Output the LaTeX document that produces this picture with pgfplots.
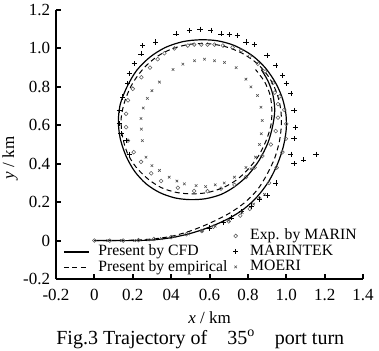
\documentclass[border=0pt]{standalone}
\usepackage{fontspec}
\setmainfont{Liberation Serif}
\usepackage{pgfplots}
\pgfplotsset{compat=1.18}
\newcommand{\myfont}{\fontsize{17}{20}\selectfont}
\newcommand{\legfont}{\fontsize{15.7}{18}\selectfont}
\newcommand{\capfont}{\fontsize{20}{23}\selectfont}
\begin{document}
\myfont
\begin{tikzpicture}[font=\myfont]
\pgfplotsset{
  common/.style={scale only axis, width=307pt, height=269pt,
    xmin=-0.2, xmax=1.4, ymin=-0.2, ymax=1.2, clip=false,
    at={(0,0)}, anchor=south west},
}
\begin{axis}[common,
  axis x line=bottom, axis y line=left,
  axis line style={-, line width=2pt},
  tick align=inside, major tick length=5pt,
  tick style={line width=2pt, black},
  xtick={-0.2,0,0.2,0.4,0.6,0.8,1.0,1.2,1.4},
  xticklabels={-0.2,0,0.2,04,0.6,0.8,1.0,1.2,1.4},
  ytick={-0.2,0,0.2,0.4,0.6,0.8,1.0,1.2},
  yticklabels={-0.2,0,0.2,0.4,0.6,0.8,1.0,1.2},
  xticklabel style={yshift=-4pt, font=\myfont},
  yticklabel style={font=\myfont},
  xlabel={\textit{x} / km}, ylabel={\textit{y} / km},
  xlabel style={at={(axis description cs:0.5,-0.143)}, anchor=center, font=\myfont},
  ylabel style={at={(axis description cs:-0.15,0.45)}, anchor=center, font=\myfont},
  legend style={draw=none, fill=none, at={(axis description cs:0.023,0.126)}, anchor=north west,
    font=\legfont, row sep=2pt, column sep=9pt, inner sep=0pt,
    nodes={inner sep=0pt, text height=10.5pt, text depth=3pt}},
  legend cell align=left,
  legend image code/.code={\draw[#1] (0pt,0pt) -- (25pt,0pt);},
]
\addplot[black, line width=1.2pt, smooth, tension=0.5] coordinates {
(0,0) (0.1,0) (0.2,0) (0.3,0.003) (0.4,0.015) (0.5,0.037) (0.6,0.07) (0.7,0.115)
(0.78,0.165) (0.85,0.23) (0.91,0.31) (0.955,0.4) (0.985,0.49) (1.0,0.58) (0.998,0.66)
(0.98,0.74) (0.945,0.82) (0.89,0.9) (0.82,0.965) (0.73,1.015) (0.64,1.04) (0.55,1.045)
(0.46,1.035) (0.37,1.005) (0.29,0.955) (0.22,0.885) (0.17,0.8) (0.135,0.71) (0.125,0.62)
(0.135,0.53) (0.165,0.44) (0.21,0.36) (0.27,0.295) (0.34,0.25) (0.42,0.222) (0.5,0.213)
(0.58,0.218) (0.66,0.24) (0.73,0.28) (0.8,0.34) (0.86,0.42) (0.905,0.51) (0.93,0.6)
(0.94,0.68) (0.93,0.76) (0.905,0.83) (0.87,0.89)
};
\addlegendentry{Present by CFD}
\addplot[black, line width=1.0pt, dash pattern=on 5pt off 3.5pt, smooth, tension=0.5] coordinates {
(0,0) (0.1,0) (0.2,0.002) (0.3,0.008) (0.4,0.022) (0.5,0.05) (0.6,0.09) (0.7,0.14)
(0.78,0.195) (0.85,0.265) (0.9,0.345) (0.94,0.43) (0.965,0.52) (0.975,0.61) (0.97,0.69)
(0.95,0.77) (0.91,0.85) (0.85,0.92) (0.77,0.975) (0.68,1.01) (0.59,1.025) (0.5,1.022)
(0.41,1.0) (0.33,0.96) (0.26,0.9) (0.2,0.82) (0.16,0.73) (0.14,0.64) (0.145,0.55)
(0.17,0.46) (0.215,0.385) (0.28,0.32) (0.35,0.275) (0.43,0.25) (0.51,0.243) (0.59,0.25)
(0.67,0.275) (0.74,0.315) (0.8,0.37) (0.855,0.44) (0.895,0.52) (0.92,0.6) (0.925,0.68)
(0.915,0.76) (0.885,0.83) (0.84,0.89)
};
\addlegendentry{Present by empirical}
\end{axis}
\begin{axis}[common, axis lines=none, ticks=none,
  legend style={draw=none, fill=none, at={(axis description cs:0.576,0.186)}, anchor=north west,
    font=\legfont, row sep=2pt, column sep=12pt, inner sep=0pt,
    nodes={inner sep=0pt, text height=10.5pt, text depth=3pt}},
  legend cell align=left,
  legend image code/.code={\draw[#1, mark repeat=1] plot coordinates {(0pt,0pt)};},
]
\addplot[only marks, mark=o, mark size=1.9pt, black!65, mark options={line width=0.55pt}] coordinates {
(0,0) (0.08,0) (0.15,0.0) (0.23,0.002) (0.31,0.008) (0.4,0.018) (0.48,0.033) (0.56,0.05)
(0.62,0.072) (0.7,0.1) (0.76,0.13) (0.81,0.165) (0.86,0.22) (0.91,0.3) (0.95,0.38)
(0.98,0.46) (0.998,0.53) (1.0,0.607) (0.99,0.68) (0.965,0.75) (0.93,0.82) (0.89,0.88)
(0.852,0.92) (0.81,0.96) (0.765,0.99) (0.72,1.005) (0.67,1.015) (0.626,1.02) (0.59,1.02)
(0.557,1.02) (0.52,1.02) (0.487,1.015) (0.417,1.0) (0.365,0.975) (0.33,0.944) (0.29,0.9)
(0.245,0.85) (0.2,0.79) (0.175,0.73) (0.165,0.66) (0.165,0.59) (0.175,0.52) (0.205,0.46)
(0.243,0.41) (0.296,0.35) (0.348,0.31) (0.435,0.275) (0.52,0.258) (0.59,0.257) (0.66,0.27)
(0.73,0.29) (0.79,0.33) (0.835,0.38) (0.875,0.44) (0.92,0.5) (0.945,0.57) (0.957,0.64)
(0.957,0.71) (0.94,0.77)
};
\addlegendentry{Exp. by MARIN}
\addplot[only marks, mark=+, mark size=2.6pt, black, mark options={line width=0.6pt}] coordinates {
(0.6,0.065) (0.67,0.095) (0.713,0.118) (0.765,0.15) (0.817,0.18) (0.86,0.215) (0.9,0.234)
(0.946,0.3) (1.04,0.40) (1.09,0.42) (1.155,0.45) (1.024,0.45) (1.04,0.53) (1.047,0.59)
(1.04,0.677) (1.024,0.764) (1.0,0.817) (0.98,0.86) (0.946,0.911) (0.9,0.964) (0.833,1.02)
(0.79,1.033) (0.746,1.068) (0.703,1.073) (0.66,1.076) (0.607,1.094) (0.55,1.10)
(0.495,1.094) (0.425,1.076) (0.32,1.033) (0.252,1.016) (0.243,0.972) (0.208,0.92)
(0.182,0.868) (0.173,0.816) (0.148,0.747) (0.13,0.677) (0.13,0.608) (0.139,0.556)
(0.165,0.52) (0.182,0.45)
};
\addlegendentry{MARINTEK}
\addplot[only marks, mark=x, mark size=1.8pt, black!70, mark options={line width=0.55pt}] coordinates {
(0.07,0) (0.14,0) (0.21,0) (0.28,0.003) (0.35,0.01) (0.42,0.02) (0.49,0.035) (0.56,0.05)
(0.63,0.075) (0.7,0.105) (0.77,0.145) (0.83,0.19) (0.887,0.24)
(0.79,0.38) (0.816,0.373) (0.84,0.434) (0.86,0.5) (0.87,0.556) (0.875,0.625) (0.868,0.694)
(0.85,0.755) (0.816,0.80) (0.79,0.84) (0.739,0.9) (0.678,0.927) (0.626,0.936) (0.574,0.944)
(0.522,0.936) (0.461,0.918) (0.41,0.89) (0.339,0.825) (0.3,0.78) (0.276,0.74) (0.255,0.69)
(0.243,0.635) (0.245,0.58) (0.25,0.52) (0.269,0.434) (0.3,0.39) (0.339,0.365) (0.39,0.33)
(0.43,0.31) (0.469,0.295) (0.53,0.286) (0.58,0.281) (0.63,0.29) (0.677,0.30) (0.73,0.33)
};
\addlegendentry{MOERI}
\node[font=\capfont] at (axis description cs:0.47,-0.224) {Fig.3 Trajectory of\hspace{1.0em}35\textsuperscript{o}\hspace{1.0em}port turn};
\end{axis}
\pgfresetboundingbox
\path (-56pt,-71pt) rectangle (323pt,279pt);
\end{tikzpicture}
\end{document}
